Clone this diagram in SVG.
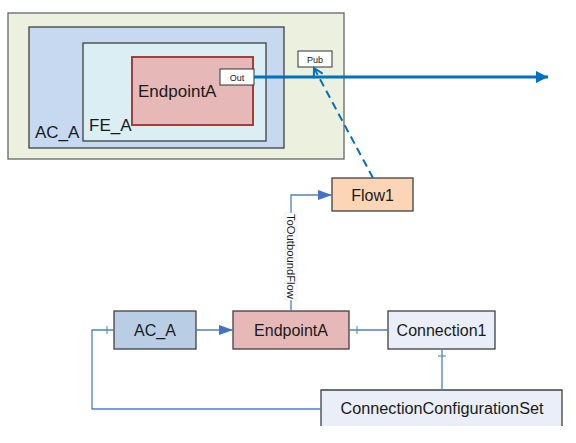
<svg xmlns="http://www.w3.org/2000/svg" width="576" height="443" viewBox="0 0 576 443">
<style>
text{font-family:"Liberation Sans",Arial,sans-serif;fill:#1a1a1a}
.box{stroke:#404040;stroke-width:1.3}
.lbl{font-size:16px;text-anchor:middle}
.big{font-size:17px}
.sm{font-size:9px;text-anchor:middle}
.con{fill:none;stroke:#4f81bd;stroke-width:1.3}
.tick{stroke:#4f81bd;stroke-width:1}
</style>
<defs>
<marker id="tri" markerWidth="14" markerHeight="10" refX="14" refY="5" orient="auto" markerUnits="userSpaceOnUse">
<path d="M0,0 L14,5 L0,10 Z" fill="#4472c4"/>
</marker>
<marker id="big" markerWidth="12" markerHeight="12" refX="12" refY="6" orient="auto" markerUnits="userSpaceOnUse">
<path d="M0,0 L12,6 L0,12 Z" fill="#0070c0"/>
</marker>
<marker id="open" markerWidth="12" markerHeight="12" refX="10" refY="6" orient="auto" markerUnits="userSpaceOnUse">
<path d="M1,1 L10,6 L1,11" fill="none" stroke="#0070c0" stroke-width="2"/>
</marker>
</defs>

<g id="top-container">
<rect x="8" y="13" width="336" height="146" fill="#ebf1de" stroke="#666" stroke-width="1.3"/>
</g>
<g id="top-AC_A">
<rect class="box" x="29" y="27" width="255" height="121" fill="#c6d9f0"/>
<text class="big" x="35" y="138">AC_A</text>
</g>
<g id="top-FE_A">
<rect class="box" x="83" y="43" width="183" height="98" fill="#dbeef4"/>
<text class="big" x="89" y="131">FE_A</text>
</g>
<g id="top-EndpointA">
<rect x="132" y="57" width="121" height="68" fill="#e6b9b8" stroke="#a0403c" stroke-width="2"/>
<text class="big" x="138" y="97">EndpointA</text>
</g>
<g id="port-Out">
<rect x="220" y="69" width="34" height="16" fill="#fff" stroke="#333" stroke-width="1"/>
<text class="sm" x="237" y="80.5">Out</text>
</g>
<g id="port-Pub">
<rect x="298" y="51" width="34" height="16" fill="#fff" stroke="#333" stroke-width="1"/>
<text class="sm" x="315" y="62.5">Pub</text>
</g>

<g id="Flow1">
<rect class="box" x="332" y="178" width="81" height="33" fill="#fbd5b5"/>
<text class="lbl" x="372.5" y="201">Flow1</text>
</g>
<g id="AC_A">
<rect class="box" x="114" y="311" width="82" height="38" fill="#b9cde5"/>
<text class="lbl" x="155" y="336">AC_A</text>
</g>
<g id="EndpointA">
<rect class="box" x="233" y="311" width="116" height="38" fill="#e6b9b8"/>
<text class="lbl" x="291" y="336">EndpointA</text>
</g>
<g id="Connection1">
<rect class="box" x="388" y="311" width="107" height="38" fill="#e9eef8"/>
<text class="lbl" x="441.5" y="336">Connection1</text>
</g>
<g id="ConnectionConfigurationSet">
<rect x="321" y="390" width="241" height="36" fill="#e9eef8"/>
<path class="box" d="M321,426 V390 H562 V426" fill="none"/>
<text class="lbl" x="442" y="414" textLength="203" lengthAdjust="spacingAndGlyphs">ConnectionConfigurationSet</text>
</g>

<g id="connectors">
<path d="M254,77 H548" fill="none" stroke="#0070c0" stroke-width="3" marker-end="url(#big)"/>
<path d="M373,178 L314,68" fill="none" stroke="#0070c0" stroke-width="2" stroke-dasharray="8,5" marker-end="url(#open)"/>
<path class="con" d="M291,311 V195 H332" marker-end="url(#tri)"/>
<rect x="285" y="213" width="12" height="87" fill="#fff" stroke="#ddd" stroke-width="0.5"/>
<text x="287" y="214" font-size="11.5" fill="#111" transform="rotate(90 287 214)" textLength="85" lengthAdjust="spacingAndGlyphs">ToOutboundFlow</text>
<path class="con" d="M196,330 H233" marker-end="url(#tri)"/>
<path class="con" d="M349,330 H388"/>
<line class="tick" x1="357" y1="326" x2="357" y2="334"/>
<path class="con" d="M442,349 V390"/>
<line class="tick" x1="438" y1="356" x2="446" y2="356"/>
<path class="con" d="M321,409 H92 V330 H114"/>
<line class="tick" x1="107" y1="326" x2="107" y2="334"/>
</g>
</svg>
